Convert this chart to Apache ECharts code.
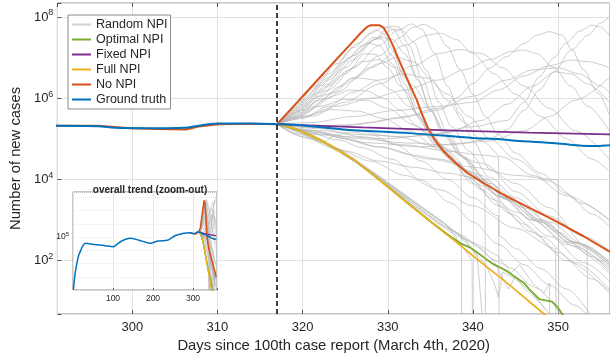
<!DOCTYPE html>
<html>
<head>
<meta charset="utf-8">
<title>NPI scenarios</title>
<script src="https://cdn.jsdelivr.net/npm/echarts@6/dist/echarts.min.js"></script>
<style>
  html, body { margin: 0; padding: 0; background: #fff; }
  #chart { width: 610px; height: 360px; }
</style>
</head>
<body>
<div id="chart"></div>
<script>
// all values are log10(number of new cases), as [day, log10 value]
const INTERVENTION_DAY = 317;

const groundTruth = [
  [1, 1.05], [5, 2.2], [9, 2.9], [14, 3.6], [21.7, 4.15], [26, 4.4], [31.7, 4.53], [46.7, 4.45],
  [60, 4.42], [80, 4.35], [100.8, 4.27], [110, 4.45], [121.7, 4.7], [142.5, 4.9], [163, 4.78],
  [180, 4.62], [192.5, 4.53], [213, 4.7], [238, 4.78], [255, 5.1], [276, 5.28], [285, 5.31],
  [291, 5.32], [296, 5.31], [298, 5.27], [303, 5.26], [306, 5.27], [310, 5.38], [314, 5.38],
  [317, 5.36], [320, 5.33], [324.8, 5.23], [332.6, 5.14], [340, 5.02], [343.2, 4.99], [345, 4.95],
  [349.7, 4.89], [352.8, 4.83], [354.3, 4.82], [356, 4.84], [358, 4.87]
];

const noNpi = [
  [291, 5.32], [296, 5.32], [299.8, 5.26], [303, 5.24], [306.3, 5.23], [307.8, 5.3], [310.2, 5.36],
  [314, 5.37], [317, 5.36], [318.5, 5.7], [320.5, 6.16], [322.5, 6.62], [324.3, 7.03], [325.5, 7.3],
  [326.8, 7.6], [327.6, 7.76], [328, 7.8], [329, 7.8], [329.5, 7.74], [330, 7.56], [330.6, 7.3],
  [331.2, 7.0], [332, 6.61], [332.7, 6.28], [333.4, 5.96], [334, 5.62], [334.7, 5.28], [335.5, 4.98],
  [336.6, 4.68], [338, 4.4], [339.3, 4.17], [341, 3.94], [342.4, 3.77], [343.2, 3.67], [345, 3.47],
  [347, 3.26], [349, 3.05], [350.9, 2.84], [353, 2.6], [355.9, 2.24], [358, 1.98]
];

const fixedNpi = [
  [317, 5.36], [327, 5.28], [337, 5.21], [346.6, 5.15], [356, 5.11], [358, 5.1]
];

const fullNpi = [
  [317, 5.36], [318.5, 5.29], [320, 5.17], [322.4, 4.93], [324.5, 4.68], [326.2, 4.45], [329, 3.99],
  [332, 3.47], [335, 2.96], [338.2, 2.43], [341, 1.95], [343.9, 1.47], [346, 1.1], [348.4, 0.68],
  [351, 0.23]
];

const optimalNpi = [
  [317, 5.36], [318.5, 5.29], [320, 5.17], [322.4, 4.93], [324.5, 4.68], [326.2, 4.45], [329, 3.99],
  [332, 3.48], [335, 2.97], [337, 2.65], [338.6, 2.42], [339.7, 2.32], [340.5, 2.2], [341.6, 2.03],
  [342.5, 1.9], [343.2, 1.83], [344, 1.74], [345.1, 1.58], [346, 1.45], [346.6, 1.3], [347.8, 1.05],
  [348.5, 1.02], [349.3, 0.99], [350, 0.84], [350.5, 0.68], [351.5, 0.45]
];

// random NPI runs: early peaks
const randomEarlyPeak = [
  [[317,5.36],[320,5.95],[323,6.6],[326,7.25],[328,7.6],[329.5,7.75],[330.5,7.72],[332,7.3],[333.5,6.5],[335,5.7],[336.5,5.1],[338.5,4.6],[341,4.1],[344,3.6],[348,2.95],[352,2.35],[356,1.75]],
  [[317,5.36],[320,5.85],[323,6.45],[326,7.05],[328.5,7.45],[330.5,7.68],[331.5,7.7],[333,7.4],[334.5,6.7],[336,5.9],[337.5,5.3],[339.5,4.7],[342,4.05],[345,3.55],[349,2.95],[353,2.4],[356,1.95]],
  [[317,5.36],[320,5.7],[323,6.2],[326,6.75],[329,7.3],[331,7.65],[332.8,7.83],[334,7.7],[335.5,7.1],[337,6.3],[338.5,5.6],[340,4.95],[342,4.25],[345,3.7],[349,3.1],[353,2.6],[356,2.25]],
  [[317,5.36],[319,5.75],[321.5,6.3],[324,6.85],[326.5,7.35],[328.6,7.68],[329.5,7.6],[330.5,7.2],[332,6.5],[333.5,5.75],[335,5.15],[337,4.6],[339.5,4.05],[342.5,3.5],[346,2.9],[350,2.2],[354,1.55],[356,1.25]],
  [[317,5.36],[319,5.7],[322,6.3],[325,6.9],[327,7.3],[328.3,7.5],[329.3,7.45],[330.5,7.05],[332,6.35],[333.5,5.6],[335,5.05],[337,4.55],[340,3.9],[343,3.35],[347,2.7],[351,2.0],[356,1.2]],
  [[317,5.36],[319,5.65],[322,6.15],[325,6.75],[327.8,7.35],[329,7.3],[330.5,6.85],[332,6.2],[333.8,5.5],[335.5,4.95],[338,4.35],[341,3.75],[344.5,3.15],[348,2.6],[352,1.95],[356,1.3]],
  [[317,5.36],[319,5.6],[322,6.05],[325,6.6],[327.4,7.1],[328.5,7.08],[330,6.75],[331.5,6.3],[333.5,5.6],[335.5,5.0],[338,4.4],[341,3.85],[345,3.2],[349,2.6],[353,1.95],[356,1.5]],
  [[317,5.36],[320,5.75],[323,6.3],[325.5,6.7],[327,6.9],[329,6.95],[331,6.75],[333,6.3],[335,5.7],[337,5.05],[339,4.5],[342,3.9],[346,3.3],[350,2.7],[354,2.1],[356,1.85]],
  [[317,5.36],[319,5.55],[322,5.95],[324.5,6.3],[326.5,6.5],[328.5,6.45],[330.5,6.2],[332.5,5.8],[334.5,5.3],[337,4.7],[340,4.1],[343.5,3.55],[347,3.0],[351,2.4],[356,1.7]],
  [[317,5.36],[319,5.5],[321.5,5.8],[323.5,6.05],[325.5,6.2],[327.5,6.18],[329.5,6.0],[331.5,5.7],[333.5,5.3],[336,4.8],[339,4.25],[343,3.6],[347,3.0],[351,2.45],[356,1.8]],
  [[317,5.36],[319.5,5.55],[322,5.8],[325,5.97],[327.5,5.95],[330,5.75],[333,5.35],[336,4.85],[339.5,4.2],[343.5,3.55],[348,2.95],[352,2.45],[356,2.0]],
  [[317,5.36],[320,5.55],[323.5,5.72],[326.5,5.68],[329.5,5.5],[332.5,5.2],[336,4.75],[340,4.15],[344,3.55],[348,3.0],[352,2.45],[356,1.9]],
  [[317,5.36],[320,5.8],[323,6.35],[326,6.95],[328.5,7.45],[330.1,7.78],[331.3,7.75],[332.5,7.3],[334,6.5],[335.5,5.75],[337,5.15],[339,4.55],[341.5,4.0],[344.5,3.5],[348,3.0],[352,2.45],[356,1.95]],
  [[317,5.36],[320,5.9],[323,6.5],[325.5,7.0],[327.5,7.35],[329,7.5],[330.5,7.45],[332,7.1],[333.5,6.45],[335,5.75],[336.5,5.2],[338.5,4.6],[341,4.0],[344,3.5],[347.5,3.0],[351.5,2.45],[356,1.9]],
  [[317,5.36],[320,5.7],[323,6.1],[326,6.5],[329,6.85],[331,7.0],[333,6.9],[335,6.5],[337,5.95],[339,5.4],[341,4.95],[343.5,4.55],[347,4.1],[351,3.6],[356,3.0]],
  [[317,5.36],[320,5.5],[323,5.8],[326,6.15],[329,6.45],[332,6.6],[334.5,6.5],[337,6.1],[339.5,5.55],[342,5.0],[345,4.5],[349,3.95],[353,3.4],[356,3.0]]
];

// random NPI runs: later resurgence
const randomLatePeak = [
  [[317,5.36],[320,5.6],[323,6.0],[326,6.5],[329,7.05],[331.5,7.5],[333,7.75],[334.3,7.82],[335.5,7.7],[337,7.27],[338.5,6.7],[340,6.1],[341.5,5.55],[343,5.1],[345,4.65],[348,4.15],[351,3.65],[354,3.15],[356,2.85]],
  [[317,5.36],[320,5.3],[324,5.3],[328,5.4],[332,5.55],[336.2,5.71],[338,6.0],[340.1,6.37],[342,6.75],[343.9,7.02],[346,7.35],[347.5,7.55],[349,7.64],[350.5,7.55],[351.6,7.2],[353,6.7],[354.7,6.12],[356,5.6]],
  [[317,5.36],[321,5.2],[325,5.05],[330,5.0],[335,5.1],[340,5.3],[344,5.45],[346,5.9],[347.8,6.53],[349.5,7.0],[350.9,7.35],[352.5,7.65],[354,7.8],[355,7.75],[356,7.55]],
  [[317,5.36],[322,5.1],[328,4.9],[334,4.8],[339,4.9],[342,5.0],[344,5.22],[346,5.7],[347.8,6.2],[349.5,6.65],[351.6,7.19],[353.5,7.55],[355,7.85],[356,8.0]],
  [[317,5.36],[320,5.55],[324,5.8],[328,6.0],[332,6.2],[336,6.45],[339,6.7],[342,6.95],[344.5,7.15],[345.9,7.19],[347.5,7.1],[349.5,6.75],[351.5,6.3],[353.5,5.8],[356,5.2]],
  [[317,5.36],[321,5.4],[326,5.55],[331,5.7],[336,5.8],[340,5.9],[343,6.2],[346,6.55],[349,6.8],[351.6,6.94],[353.5,6.9],[356,6.75]],
  [[317,5.36],[322,5.2],[327,5.1],[332,5.05],[337,5.15],[341,5.45],[344,5.85],[347,6.3],[349.7,6.65],[351.5,6.6],[353.5,6.35],[356,5.9]],
  [[317,5.36],[320,5.65],[324,6.15],[328,6.75],[332,7.3],[334.5,7.55],[336.2,7.6],[338,7.45],[340,7.1],[342.5,6.6],[345,6.1],[348,5.55],[351,5.0],[354,4.5],[356,4.2]],
  [[317,5.36],[321,5.55],[325,5.9],[329,6.35],[333,6.8],[336,7.1],[338.5,7.2],[341,7.1],[343.5,6.75],[346,6.3],[349,5.75],[352,5.2],[356,4.5]],
  [[317,5.36],[322,5.15],[327,5.0],[332,4.9],[337,4.85],[342,4.95],[346,5.2],[349,5.55],[352,5.95],[356,6.5]],
  [[317,5.36],[321,5.3],[326,5.35],[331,5.5],[336,5.75],[340,6.05],[344,6.45],[347,6.7],[350,6.75],[352.5,6.6],[355,6.3],[356,6.15]]
];

// random NPI runs: slow decline, some dropping to zero
const randomDecline = [
  [[317,5.36],[319.5,5.12],[322.4,4.9],[323.5,5.05],[325.5,5.17],[328,5.1],[331,4.85],[334,4.45],[337,4.0],[340,3.55],[343,3.1],[343.1,-1]],
  [[317,5.36],[320,5.2],[324.3,4.97],[327,4.78],[330.5,4.5],[334,3.98],[337.4,3.42],[340,2.95],[343,2.4],[346,1.9],[349,1.4],[352,0.9],[354,0.5]],
  [[317,5.36],[321,5.2],[325,5.0],[329,4.8],[333,4.6],[336,4.5],[338.6,4.4],[338.7,-1]],
  [[317,5.36],[322,5.25],[327,5.05],[332,4.85],[337,4.7],[341,4.6],[343,4.56],[343.1,2.6],[345,2.3],[348,1.8],[351,1.3],[354,0.6]],
  [[317,5.36],[321,5.0],[325,4.7],[329,4.45],[333,4.3],[337,4.15],[341.4,3.99],[341.5,-1]],
  [[317,5.36],[320,5.05],[324,4.75],[328,4.45],[332,4.1],[336,3.75],[340,3.35],[345,2.8],[349.7,2.3],[349.8,-1]],
  [[317,5.36],[321,5.28],[326,5.2],[331,5.05],[336,4.8],[341,4.4],[345,3.9],[349,3.3],[353.4,2.34],[353.5,-1]],
  [[317,5.36],[323,5.1],[329,4.8],[335,4.5],[340,4.3],[345,4.1],[350,3.99],[350.1,-1]]
];

// random NPI runs: close to the full NPI path
const randomNearFull = [
  [[317,5.36],[320,5.17],[324.5,4.7],[329,4.02],[333,3.36],[336,2.9],[338,2.62],[339.5,2.47],[341,2.3],[342,2.07],[343.5,1.92],[345,1.76],[346.5,1.42],[348,1.27],[349.5,0.92],[350.5,0.6]],
  [[317,5.36],[320,5.18],[324.5,4.72],[329,4.05],[333,3.4],[336,2.92],[337.5,2.75],[339,2.6],[340.5,2.35],[341.5,2.18],[342.5,1.98],[343.5,1.55],[344.2,1.3],[345,1.62],[346,1.32],[347.5,1.05],[349,0.7]],
  [[317,5.36],[321,5.12],[325,4.66],[329,4.08],[333,3.48],[336.5,2.95],[338.5,2.6],[340,2.25],[341.5,1.9],[342.5,1.45],[343,1.1],[343.5,1.72],[345,1.55],[347,1.2],[348.5,0.8]],
  [[317,5.36],[322,4.95],[326,4.45],[330,3.86],[334,3.25],[337,2.8],[339,2.55],[340.5,2.1],[341.2,0.4]],
  [[317,5.36],[322,4.98],[326,4.5],[330,3.9],[334,3.3],[337,2.86],[339.9,2.01],[340,-1]],
  [[317,5.36],[321,5.1],[325,4.62],[329,4.06],[333,3.45],[336,3.0],[339,2.55],[341,2.35],[343,2.1],[344.5,1.7],[345.5,1.9],[347,1.45],[348.3,1.2],[349,1.44],[349.05,-1]]
];

const legendNames = ['Random NPI', 'Optimal NPI', 'Fixed NPI', 'Full NPI', 'No NPI', 'Ground truth'];
const mainExpTicks = [2, 4, 6, 8];
const insetDayTicks = [100, 200, 300];
const insetExpTicks = [5];

const FONT = "'Liberation Sans', Arial, Helvetica, sans-serif";
const TEXT = '#262626';
const GRAY = '#b4b4b4';

const chart = echarts.init(document.getElementById('chart'), null, { renderer: 'canvas' });

const isInt = v => Math.abs(v - Math.round(v)) < 1e-6;

function makeLine(name, data, color, width, inset, opts) {
  return Object.assign({
    type: 'line',
    name: name,
    data: data,
    xAxisIndex: inset ? 1 : 0,
    yAxisIndex: inset ? 1 : 0,
    showSymbol: false,
    symbol: 'none',
    silent: true,
    clip: true,
    z: inset ? 12 : 2,
    itemStyle: { color: color },
    lineStyle: { color: color, width: inset ? Math.max(0.5, width * 0.75) : width }
  }, opts || {});
}

function buildSeries(inset) {
  const out = [];
  randomEarlyPeak.concat(randomLatePeak, randomDecline).forEach(run => {
    out.push(makeLine('Random NPI', run, GRAY, 0.65, inset, { smooth: 0.3, smoothMonotone: 'x' }));
  });
  randomNearFull.forEach(run => {
    out.push(makeLine('Random NPI', run, GRAY, 0.65, inset));
  });
  out.push(makeLine('Optimal NPI', optimalNpi, '#77AC30', 1.8, inset));
  out.push(makeLine('Fixed NPI', fixedNpi, '#7E2F8E', 1.8, inset));
  out.push(makeLine('Full NPI', fullNpi, '#EDB120', 1.8, inset, { smooth: 0.3 }));
  out.push(makeLine('No NPI', noNpi, '#D95319', 2, inset));
  const gt = makeLine('Ground truth', groundTruth, '#0072BD', 2, inset, { smooth: 0.3 });
  if (!inset) {
    gt.markLine = {
      silent: true,
      symbol: 'none',
      label: { show: false },
      lineStyle: { color: '#000', type: [5, 3], width: 1.5 },
      data: [{ xAxis: INTERVENTION_DAY }]
    };
  }
  out.push(gt);
  return out;
}

const option = {
  animation: false,
  backgroundColor: '#fff',
  textStyle: { fontFamily: FONT },
  title: {
    text: 'overall trend (zoom-out)',
    left: 145,
    top: 180,
    textAlign: 'center',
    z: 20,
    textStyle: { fontSize: 10, fontWeight: 'bold', color: TEXT, fontFamily: FONT }
  },
  legend: {
    data: legendNames.map(n => (n === 'Random NPI' ? { name: n, itemStyle: { color: '#d2d2d2' } } : n)),
    orient: 'vertical',
    left: 68,
    top: 15,
    icon: 'rect',
    itemWidth: 19,
    itemHeight: 2,
    itemGap: 0,
    padding: [2, 3, 2, 4],
    borderColor: '#8a8a8a',
    borderWidth: 1,
    backgroundColor: '#fff',
    selectedMode: false,
    textStyle: { fontSize: 12.5, lineHeight: 15, color: TEXT, fontFamily: FONT }
  },
  grid: [
    { left: 50, top: 3, width: 562, height: 311, show: true, borderColor: '#8c8c8c', borderWidth: 1, backgroundColor: 'transparent' },
    { left: 73, top: 192, width: 144, height: 98, show: true, borderColor: '#8c8c8c', borderWidth: 1, backgroundColor: '#fff', z: 10 }
  ],
  xAxis: [
    {
      type: 'value', gridIndex: 0, min: 291.2, max: 356.1, splitNumber: 6,
      name: 'Days since 100th case report (March 4th, 2020)',
      nameLocation: 'middle', nameGap: 21,
      nameTextStyle: { fontSize: 14.8, color: TEXT, fontFamily: FONT },
      axisLine: { show: false },
      axisTick: { show: true, inside: true, length: 4, lineStyle: { color: '#555' } },
      axisLabel: {
        fontSize: 13, color: TEXT, margin: 7, fontFamily: FONT,
        showMinLabel: false, showMaxLabel: false,
        formatter: v => (isInt(v / 10) ? String(Math.round(v)) : '')
      },
      splitLine: { show: true, lineStyle: { color: '#e1e1e1', width: 1 } }
    },
    {
      type: 'value', gridIndex: 1, min: 0, max: 360, z: 11,
      axisLine: { show: false },
      axisTick: { show: true, inside: true, length: 2, lineStyle: { color: '#666' } },
      axisLabel: {
        fontSize: 8.5, color: TEXT, margin: 4, fontFamily: FONT,
        formatter: v => (insetDayTicks.indexOf(Math.round(v)) >= 0 && isInt(v) ? String(Math.round(v)) : '')
      },
      splitLine: { show: true, lineStyle: { color: '#e6e6e6', width: 1 } }
    },
    {
      // tick marks along the top edge of the main box
      type: 'value', gridIndex: 0, position: 'top', min: 291.2, max: 356.1, splitNumber: 6,
      axisLine: { show: false },
      axisTick: { show: true, inside: true, length: 4, lineStyle: { color: '#555' } },
      axisLabel: { show: false },
      splitLine: { show: false }
    }
  ],
  yAxis: [
    {
      type: 'value', gridIndex: 0, min: 0.685, max: 8.345, splitNumber: 4,
      name: 'Number of new cases',
      nameLocation: 'middle', nameGap: 30,
      nameTextStyle: { fontSize: 14.8, color: TEXT, fontFamily: FONT },
      axisLine: { show: false },
      axisTick: { show: true, inside: true, length: 4, lineStyle: { color: '#555' } },
      axisLabel: {
        margin: 4, color: TEXT,
        formatter: v => (isInt(v) && mainExpTicks.indexOf(Math.round(v)) >= 0 ? '{b|10}{s|' + Math.round(v) + '}' : ''),
        rich: {
          b: { fontSize: 13, color: TEXT, fontFamily: FONT },
          s: { fontSize: 9, color: TEXT, fontFamily: FONT, padding: [0, 0, 8, 0] }
        }
      },
      splitLine: { show: true, lineStyle: { color: '#e1e1e1', width: 1 } }
    },
    {
      type: 'value', gridIndex: 1, min: 1, max: 8.4, interval: 1, z: 11,
      axisLine: { show: false },
      axisTick: { show: false },
      axisLabel: {
        margin: 4, color: TEXT,
        formatter: v => (isInt(v) && insetExpTicks.indexOf(Math.round(v)) >= 0 ? '{b|10}{s|' + Math.round(v) + '}' : ''),
        rich: {
          b: { fontSize: 8.5, color: TEXT, fontFamily: FONT },
          s: { fontSize: 6, color: TEXT, fontFamily: FONT, padding: [0, 0, 5, 0] }
        }
      },
      splitLine: { show: true, lineStyle: { color: '#ececec', width: 1, type: 'dotted' } }
    }
  ],
  series: buildSeries(false).concat(buildSeries(true))
};

chart.setOption(option);
</script>
</body>
</html>
